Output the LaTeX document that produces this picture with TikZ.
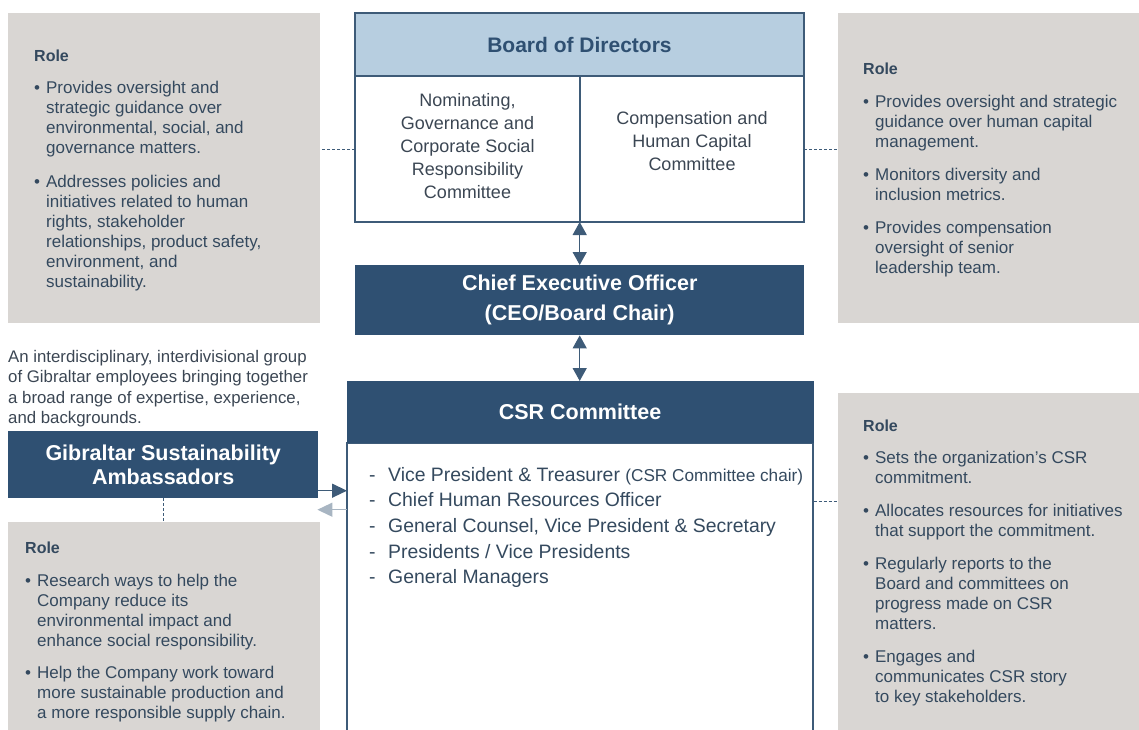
\documentclass[tikz,border=0pt]{standalone}
\usepackage{fontspec}
\setmainfont{Liberation Sans}
\usetikzlibrary{arrows.meta,positioning}

\definecolor{navy}{HTML}{2F5072}
\definecolor{paleblue}{HTML}{B7CEE0}
\definecolor{rolegray}{HTML}{D9D6D3}
\definecolor{slate}{HTML}{34495E}
\definecolor{edge}{HTML}{3E5B78}
\definecolor{inkgray}{HTML}{3B4653}

\tikzset{
  rolebox/.style={rectangle, fill=rolegray, anchor=north west, inner sep=0pt},
  roletext/.style={anchor=base west, inner sep=0pt, text=slate, font=\fontsize{17}{20}\selectfont},
  navybox/.style={rectangle, fill=navy, text=white, anchor=north west, inner sep=0pt, align=center},
  cell/.style={rectangle, draw=edge, line width=1.4pt, anchor=north west, inner sep=0pt, outer sep=0pt, align=center},
  link/.style={dashed, draw=edge, line width=0.7pt, dash pattern=on 3pt off 2pt},
  flow/.style={draw=edge, line width=1.4pt},
  >={Triangle[length=13pt,width=14pt]}
}

\begin{document}
\begin{tikzpicture}[x=1pt, y=-1pt]
  \useasboundingbox (0,0) rectangle (1139,729);

  % role panels
  \node (nomrole) [rolebox, minimum width=312pt, minimum height=310pt] at (8,13) {};
  \node (comprole) [rolebox, minimum width=310pt, minimum height=310pt] at (838,13) {};
  \node (ambrole) [rolebox, minimum width=312pt, minimum height=220pt] at (8,522) {};
  \node (csrrole) [rolebox, minimum width=310pt, minimum height=350pt] at (838,393) {};

  \node (nomtext) [roletext] at (34,61) {\begin{tabular}[t]{@{}l@{\hspace{6pt}}l@{}}
    \multicolumn{2}{@{}l}{\fontsize{16}{20}\selectfont\bfseries Role}\\[12pt]
    \textbullet & Provides oversight and\\
    & strategic guidance over\\
    & environmental, social, and\\
    & governance matters.\\[14pt]
    \textbullet & Addresses policies and\\
    & initiatives related to human\\
    & rights, stakeholder\\
    & relationships, product safety,\\
    & environment, and\\
    & sustainability.
  \end{tabular}};

  \node (comptext) [roletext] at (863,74) {\begin{tabular}[t]{@{}l@{\hspace{6pt}}l@{}}
    \multicolumn{2}{@{}l}{\fontsize{16}{20}\selectfont\bfseries Role}\\[13pt]
    \textbullet & Provides oversight and strategic\\
    & guidance over human capital\\
    & management.\\[13pt]
    \textbullet & Monitors diversity and\\
    & inclusion metrics.\\[13pt]
    \textbullet & Provides compensation\\
    & oversight of senior\\
    & leadership team.
  \end{tabular}};

  \node (csrtext) [roletext] at (863,431) {\begin{tabular}[t]{@{}l@{\hspace{6pt}}l@{}}
    \multicolumn{2}{@{}l}{\fontsize{16}{20}\selectfont\bfseries Role}\\[12pt]
    \textbullet & Sets the organization's CSR\\
    & commitment.\\[13pt]
    \textbullet & Allocates resources for initiatives\\
    & that support the commitment.\\[13pt]
    \textbullet & Regularly reports to the\\
    & Board and committees on\\
    & progress made on CSR\\
    & matters.\\[13pt]
    \textbullet & Engages and\\
    & communicates CSR story\\
    & to key stakeholders.
  \end{tabular}};

  \node (ambtext) [roletext] at (25,553) {\begin{tabular}[t]{@{}l@{\hspace{6pt}}l@{}}
    \multicolumn{2}{@{}l}{\fontsize{16}{20}\selectfont\bfseries Role}\\[13pt]
    \textbullet & Research ways to help the\\
    & Company reduce its\\
    & environmental impact and\\
    & enhance social responsibility.\\[12pt]
    \textbullet & Help the Company work toward\\
    & more sustainable production and\\
    & a more responsible supply chain.
  \end{tabular}};

  % board of directors
  \node (boardhead) [cell, fill=paleblue, minimum width=449pt, minimum height=63pt, text=navy,
    font=\bfseries\fontsize{21}{24}\selectfont] at (355,13) {Board of Directors};
  \node (nomcomm) [cell, minimum width=225pt, minimum height=146pt, text=inkgray,
    font=\fontsize{18}{23}\selectfont] at (boardhead.south west)
    {Nominating,\\Governance and\\Corporate Social\\Responsibility\\Committee\\[-17pt]};
  \node (compcomm) [cell, minimum width=224pt, minimum height=146pt, text=inkgray,
    font=\fontsize{18}{23}\selectfont] at (nomcomm.north east)
    {Compensation and\\Human Capital\\Committee\\[-6pt]};

  \node (ceo) [navybox, minimum width=449pt, minimum height=70pt,
    font=\bfseries\fontsize{21.5}{30}\selectfont] at (355,265)
    {Chief Executive Officer\\(CEO/Board Chair)};

  % csr committee
  \node (csrbody) [cell, minimum width=466pt, minimum height=300pt] at (347,443) {};
  \node (csrhead) [navybox, minimum width=467pt, minimum height=62pt,
    font=\bfseries\fontsize{21.5}{24}\selectfont] at (346.3,381) {CSR Committee};
  \node (members) [anchor=base west, inner sep=0pt, text=slate, font=\fontsize{19.4}{25.7}\selectfont]
    at (369,481) {\begin{tabular}[t]{@{}l@{\hspace{12.5pt}}l@{}}
    - & Vice President \& Treasurer {\fontsize{17.2}{20}\selectfont(CSR Committee chair)}\\
    - & Chief Human Resources Officer\\
    - & General Counsel, Vice President \& Secretary\\
    - & Presidents / Vice Presidents\\
    - & General Managers
  \end{tabular}};

  % ambassadors
  \node (intro) [anchor=base west, inner sep=0pt, text=inkgray, font=\fontsize{16.8}{20.5}\selectfont]
    at (8,362) {\begin{tabular}[t]{@{}l@{}}
    An interdisciplinary, interdivisional group\\
    of Gibraltar employees bringing together\\
    a broad range of expertise, experience,\\
    and backgrounds.
  \end{tabular}};
  \node (gsa) [navybox, minimum width=310pt, minimum height=67pt,
    font=\bfseries\fontsize{21.5}{24.5}\selectfont] at (8,431)
    {Gibraltar Sustainability\\Ambassadors};

  % connectors
  \draw [link] (nomcomm.west) -- (nomcomm.west -| nomrole.east);
  \draw [link] (compcomm.east) -- (compcomm.east -| comprole.west);
  \draw [link] ([yshift=-58pt]csrhead.south east) -- ([yshift=-58pt]csrhead.south east -| csrrole.west);
  \draw [link] (gsa.south) -- (gsa.south |- ambrole.north);
  \draw [flow, <->] (ceo.north |- nomcomm.south) -- (ceo.north);
  \draw [flow, <->] (ceo.south) -- (ceo.south |- csrhead.north);
  \draw [flow, ->, >={Triangle[length=15pt,width=14pt]}] ([yshift=-26pt]gsa.east) -- ([yshift=-26pt]gsa.east -| csrbody.west);
  \draw [flow, draw=edge!45, ->, >={Triangle[length=15pt,width=14pt]}, shorten >=-1pt]
    ([yshift=-45pt]gsa.east -| csrbody.west) -- ([yshift=-45pt]gsa.east);
\end{tikzpicture}
\end{document}
